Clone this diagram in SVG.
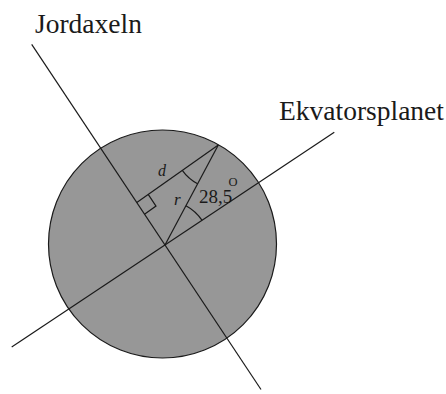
<svg xmlns="http://www.w3.org/2000/svg" width="446" height="394" viewBox="0 0 446 394">
  <style>
    .ln { stroke: #1a1a1a; stroke-width: 1.2; fill: none; }
    .lbl { font-family: "Liberation Serif", "Times New Roman", serif; fill: #1a1a1a; }
    .it { font-style: italic; }
  </style>
  <rect width="446" height="394" fill="#ffffff"/>
  <g id="earth">
    <circle cx="162.5" cy="244" r="114" fill="#979797" stroke="#1a1a1a" stroke-width="1.2"/>
  </g>
  <g id="connectors">
    <line id="jordaxeln-line" class="ln" x1="31.7" y1="44.4" x2="261" y2="389.5"/>
    <line id="ekvator-line" class="ln" x1="11.7" y1="346.9" x2="334.3" y2="132.3"/>
    <line id="r-line" class="ln" x1="165" y1="245" x2="218.3" y2="145"/>
    <line id="d-line" class="ln" x1="218.3" y1="145" x2="136.8" y2="202.5"/>
    <path id="right-angle" class="ln" d="M148.2,194.4 L156,206.1 L144.5,214.2"/>
    <path id="arc-apex" class="ln" d="M182.3,170.4 A44,44 0 0 0 197.6,183.8"/>
    <path id="arc-center" class="ln" d="M185.9,205.7 A44.5,44.5 0 0 1 202.1,220.4"/>
  </g>
  <g id="labels">
    <text id="label-jordaxeln" class="lbl" x="35" y="33" font-size="27.5">Jordaxeln</text>
    <text id="label-ekvator" class="lbl" x="279" y="120" font-size="27.5">Ekvatorsplanet</text>
    <text id="label-d" class="lbl it" x="158" y="176" font-size="16">d</text>
    <text id="label-r" class="lbl it" x="174" y="205" font-size="17">r</text>
    <text id="label-angle" class="lbl" x="199" y="202.7" font-size="19">28,5</text>
    <text id="label-degree" class="lbl" x="228.5" y="186" font-size="12.5">O</text>
  </g>
</svg>
